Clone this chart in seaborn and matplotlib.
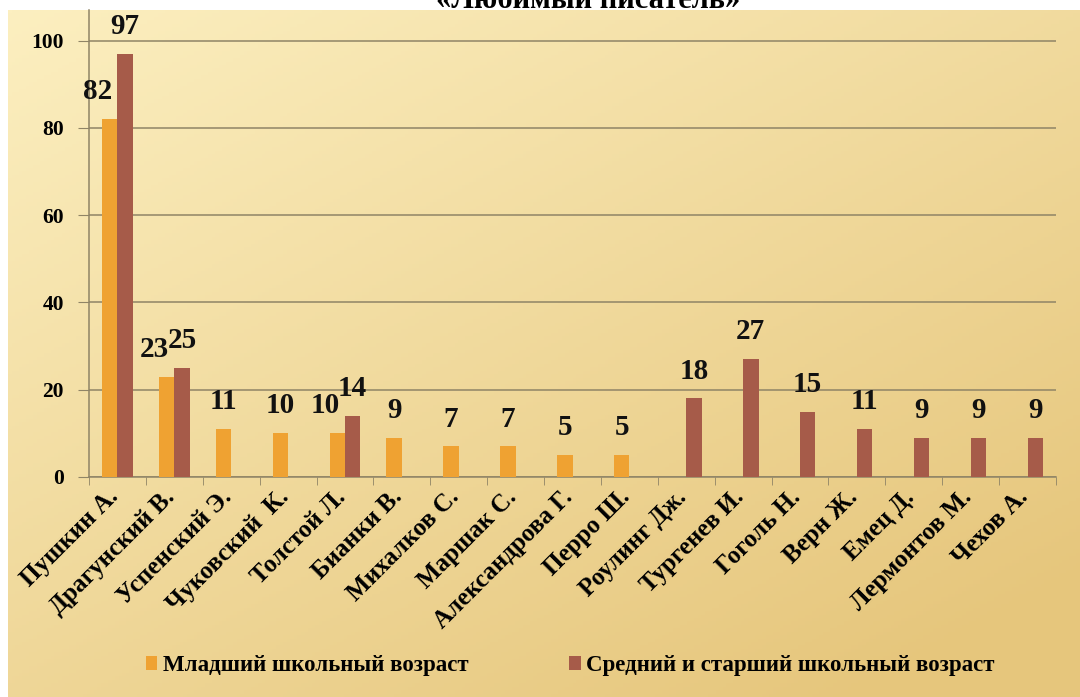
import numpy as np
import pandas as pd
import seaborn as sns
import matplotlib.pyplot as plt
from matplotlib.patches import Patch
from matplotlib.transforms import ScaledTranslation

# data
authors = ['Пушкин А.', 'Драгунский В.', 'Успенский Э.', 'Чуковский  К.', 'Толстой Л.',
           'Бианки В.', 'Михалков С.', 'Маршак С.', 'Александрова Г.', 'Перро Ш.',
           'Роулинг Дж.', 'Тургенев И.', 'Гоголь Н.', 'Верн Ж.', 'Емец Д.',
           'Лермонтов М.', 'Чехов А.']
junior = [82, 23, 11, 10, 10, 9, 7, 7, 5, 5,
          None, None, None, None, None, None, None]
senior = [97, 25, None, None, 14, None, None, None, None, None,
          18, 27, 15, 11, 9, 9, 9]
groups = ['Младший школьный возраст', 'Средний и старший школьный возраст']
colors = ['#EFA232', '#A65B49']

df = pd.concat([
    pd.DataFrame({'author': authors, 'value': junior, 'group': groups[0]}),
    pd.DataFrame({'author': authors, 'value': senior, 'group': groups[1]}),
]).dropna()

serif = ['Liberation Serif', 'DejaVu Serif']

fig = plt.figure(figsize=(10.8, 6.97), dpi=100)
fig.patch.set_facecolor('white')

# slide background: cream to gold gradient
bg = fig.add_axes([8 / 1080, 0, 1 - 8 / 1080, 1 - 10 / 697], zorder=0)
gx, gy = np.meshgrid(np.linspace(0, 1, 300), np.linspace(0, 1, 200))
t = np.clip(0.5 * gx + 0.6 * gy, 0, 1)
c0 = np.array([252, 239, 192]) / 255
c1 = np.array([230, 198, 124]) / 255
img = c0[None, None, :] * (1 - t[..., None]) + c1[None, None, :] * t[..., None]
bg.imshow(img, aspect='auto', extent=[0, 1, 0, 1], origin='upper')
bg.axis('off')

ax = fig.add_axes([89 / 1080, 1 - 477 / 697, (1056 - 89) / 1080, (477 - 10) / 697], zorder=1)
ax.patch.set_alpha(0)

sns.barplot(data=df, x='author', y='value', hue='group', order=authors,
            hue_order=groups, palette=colors, width=0.54, saturation=1,
            legend=False, ax=ax, zorder=3)

# value labels; in pairs the left label is pushed aside like in the original
both = [j is not None and s is not None for j, s in zip(junior, senior)]
for k, c in enumerate(ax.containers):
    for p, v in zip(c.patches, c.datavalues):
        xc = p.get_x() + p.get_width() / 2
        dx = -9 if (k == 0 and both[int(round(xc))]) else 0
        ax.annotate(f'{v:.0f}', (xc, v), xytext=(dx, 10), textcoords='offset points',
                    ha='center', va='bottom', fontsize=21, fontweight='bold',
                    family=serif, color='#111111', zorder=5)

ax.set_ylim(0, 107)
ax.set_xlim(-0.5, len(authors) - 0.5)
ax.set_yticks([0, 20, 40, 60, 80, 100])
ax.yaxis.grid(True, color='#8F8466', linewidth=1.1, zorder=0)
ax.set_axisbelow(True)
ax.set_xlabel('')
ax.set_ylabel('')

for s in ['top', 'right']:
    ax.spines[s].set_visible(False)
for s in ['left', 'bottom']:
    ax.spines[s].set_color('#8F8466')
    ax.spines[s].set_linewidth(1.1)

ax.tick_params(axis='y', length=8, color='#8F8466', pad=10)
ax.tick_params(axis='x', which='major', length=0, pad=6)
ax.set_xticks(np.arange(-0.5, len(authors)), minor=True)
ax.tick_params(axis='x', which='minor', length=6, color='#8F8466')

for lab in ax.get_yticklabels():
    lab.set_fontfamily(serif)
    lab.set_fontweight('bold')
    lab.set_fontsize(15.5)
ax.set_xticks(range(len(authors)))
ax.set_xticklabels(authors, rotation=45, ha='right', rotation_mode='anchor',
                   family=serif, fontweight='bold', fontsize=18)
shift = ScaledTranslation(-8 / 72, 0, fig.dpi_scale_trans)
for lab in ax.get_xticklabels():
    lab.set_transform(lab.get_transform() + shift)

handles = [Patch(facecolor=colors[0]), Patch(facecolor=colors[1])]
fig.legend(handles, groups, loc='center', bbox_to_anchor=(0.528, 0.045), ncol=2,
           frameon=False, handlelength=0.5, handleheight=0.5, handletextpad=0.25,
           columnspacing=4.4, prop={'family': serif, 'weight': 'bold', 'size': 16.5})

fig.text(0.545, 1 - 8 / 697, '«Любимый писатель»', ha='center', va='baseline',
         family=serif, fontweight='bold', fontsize=22)

plt.savefig('out.png', dpi=100)
plt.close()
